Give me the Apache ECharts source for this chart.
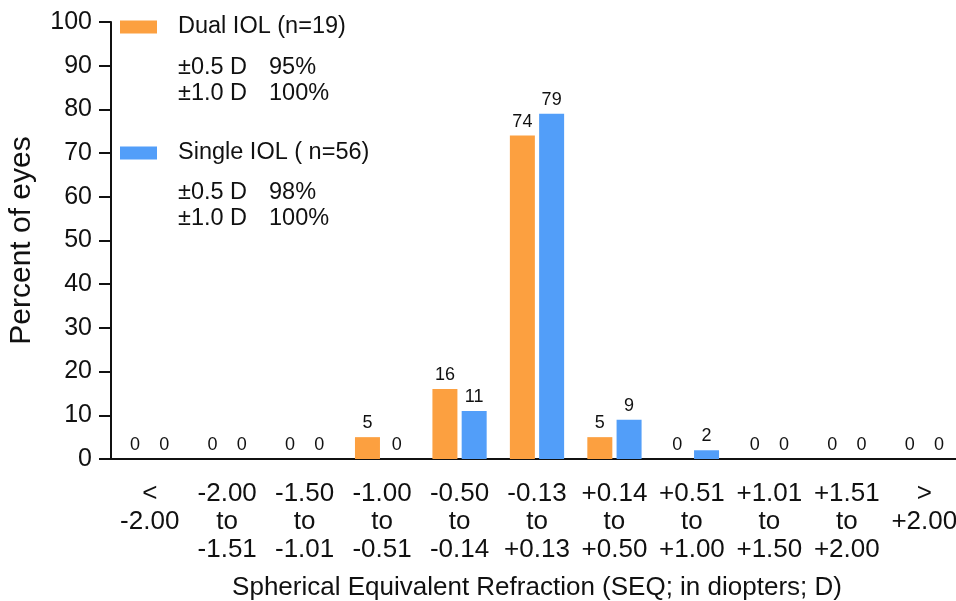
<!DOCTYPE html>
<html>
<head>
<meta charset="utf-8">
<title>Spherical Equivalent Refraction</title>
<script src="https://cdn.jsdelivr.net/npm/echarts@6/dist/echarts.min.js"></script>
<style>
  html, body { margin: 0; padding: 0; background: #ffffff; }
  #chart { width: 956px; height: 601px; }
</style>
</head>
<body>
<div id="chart"></div>
<script>
// Refraction bins (SEQ, diopters)
const categories = [
  '<\n-2.00',
  '-2.00\nto\n-1.51',
  '-1.50\nto\n-1.01',
  '-1.00\nto\n-0.51',
  '-0.50\nto\n-0.14',
  '-0.13\nto\n+0.13',
  '+0.14\nto\n+0.50',
  '+0.51\nto\n+1.00',
  '+1.01\nto\n+1.50',
  '+1.51\nto\n+2.00',
  '>\n+2.00'
];

// Percent of eyes in each bin
const dualIOL = [0, 0, 0, 5, 16, 74, 5, 0, 0, 0, 0];
const singleIOL = [0, 0, 0, 0, 11, 79, 9, 2, 0, 0, 0];

const seriesNames = ['Dual IOL (n=19)', 'Single IOL ( n=56)'];
const dualStats = [['±0.5 D', '95%'], ['±1.0 D', '100%']];
const singleStats = [['±0.5 D', '98%'], ['±1.0 D', '100%']];

const FONT = '"Liberation Sans", Arial, Helvetica, sans-serif';
const ORANGE = '#FCA040';
const BLUE = '#529EF9';

function statTexts(rows, yStart) {
  const out = [];
  rows.forEach((r, i) => {
    out.push({
      type: 'text', left: 178, top: yStart + i * 26,
      style: { text: r[0], font: '23.5px ' + FONT, fill: '#111' }
    });
    out.push({
      type: 'text', left: 269, top: yStart + i * 26,
      style: { text: r[1], font: '23.5px ' + FONT, fill: '#111' }
    });
  });
  return out;
}

const chart = echarts.init(document.getElementById('chart'));

const barLabel = {
  show: true, position: 'top', distance: 5,
  fontSize: 18, color: '#111', fontFamily: FONT
};

chart.setOption({
  animation: false,
  textStyle: { fontFamily: FONT },
  grid: {
    left: 111, right: -7, top: 22, bottom: 142,
    containLabel: false, outerBoundsMode: 'none'
  },
  legend: [
    {
      data: [seriesNames[0]], left: 120, top: 15, padding: 0,
      orient: 'vertical', icon: 'rect', itemWidth: 37, itemHeight: 13,
      textStyle: { fontSize: 23.5, color: '#111', fontFamily: FONT, padding: [0, 0, 0, 16] }
    },
    {
      data: [seriesNames[1]], left: 120, top: 141, padding: 0,
      orient: 'vertical', icon: 'rect', itemWidth: 37, itemHeight: 13,
      textStyle: { fontSize: 23.5, color: '#111', fontFamily: FONT, padding: [0, 0, 0, 16] }
    }
  ],
  graphic: statTexts(dualStats, 56).concat(statTexts(singleStats, 181)),
  xAxis: {
    type: 'category',
    data: categories,
    name: 'Spherical Equivalent Refraction (SEQ; in diopters; D)',
    nameLocation: 'middle',
    nameGap: 116,
    nameTextStyle: { fontSize: 26, color: '#111', fontFamily: FONT },
    axisLine: { lineStyle: { color: '#111', width: 2 } },
    axisTick: { alignWithLabel: true, length: 12, lineStyle: { color: '#111', width: 2 } },
    axisLabel: {
      interval: 0, fontSize: 26, lineHeight: 28, margin: 21,
      color: '#111', fontFamily: FONT, align: 'center'
    }
  },
  yAxis: {
    type: 'value',
    min: 0, max: 100, interval: 10,
    name: 'Percent of eyes',
    nameLocation: 'middle',
    nameGap: 74,
    nameTextStyle: { fontSize: 30, color: '#111', fontFamily: FONT },
    axisLine: { show: true, lineStyle: { color: '#111', width: 2 } },
    axisTick: { show: true, length: 12, lineStyle: { color: '#111', width: 2 } },
    axisLabel: { fontSize: 25, margin: 19, color: '#111', fontFamily: FONT },
    splitLine: { show: false }
  },
  series: [
    {
      name: seriesNames[0], type: 'bar', data: dualIOL,
      barWidth: 25, barGap: '17%',
      itemStyle: { color: ORANGE },
      label: barLabel
    },
    {
      name: seriesNames[1], type: 'bar', data: singleIOL,
      barWidth: 25, barGap: '17%',
      itemStyle: { color: BLUE },
      label: barLabel
    }
  ]
});
</script>
</body>
</html>
